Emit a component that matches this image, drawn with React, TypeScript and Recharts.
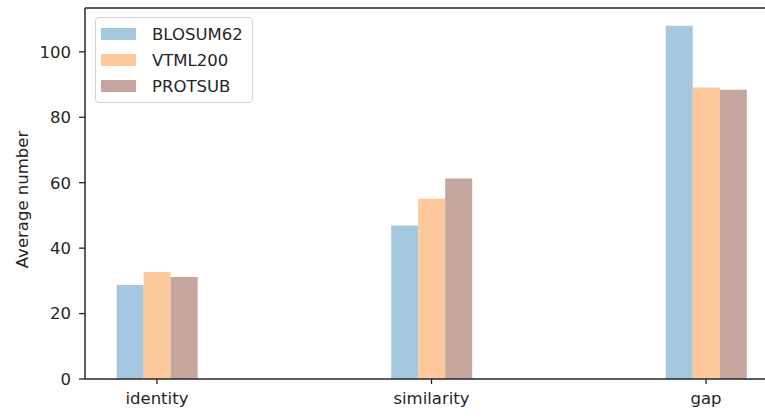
import React from "react"
import { Bar, BarChart, Legend, ReferenceLine, XAxis, YAxis } from "recharts"

const categories = ["identity", "similarity", "gap"]
const blosum62 = [28.7, 46.9, 108.0]
const vtml200 = [32.7, 55.1, 89.1]
const protsub = [31.2, 61.3, 88.4]
const yTicks = [0, 20, 40, 60, 80, 100]
const yMax = 113.4

const series = [
  { key: "BLOSUM62", color: "#a5c8e1" },
  { key: "VTML200", color: "#fdc89b" },
  { key: "PROTSUB", color: "#c4a69e" },
]

const data = categories.map((name, i) => ({
  x: i,
  name,
  BLOSUM62: blosum62[i],
  VTML200: vtml200[i],
  PROTSUB: protsub[i],
}))

const FONT = "'DejaVu Sans', sans-serif"
const INK = "#262626"

function LegendBox() {
  return (
    <div
      style={{
        width: 156,
        height: 84,
        border: "1px solid #d3d3d3",
        borderRadius: 4,
        background: "rgba(255,255,255,0.85)",
        fontFamily: FONT,
        fontSize: 16.5,
        color: INK,
        position: "relative",
      }}
    >
      {series.map((s, i) => (
        <div
          key={s.key}
          style={{ position: "absolute", left: 0, top: 3 + i * 26, height: 26, display: "flex", alignItems: "center" }}
        >
          <span style={{ display: "inline-block", marginLeft: 5, width: 35, height: 12, background: s.color }} />
          <span style={{ marginLeft: 16 }}>{s.key}</span>
        </div>
      ))}
    </div>
  )
}

function YLabel(props: any) {
  const vb = props.viewBox || {}
  const cx = 22
  const cy = vb.y + vb.height / 2 + 6
  return (
    <text
      x={cx}
      y={cy}
      transform={`rotate(-90, ${cx}, ${cy})`}
      textAnchor="middle"
      dominantBaseline="central"
      fontFamily={FONT}
      fontSize={16.5}
      fill={INK}
    >
      Average number
    </text>
  )
}

export default function App() {
  return (
    <div
      style={{
        position: "fixed",
        left: 0,
        top: 0,
        width: 765,
        height: 418,
        overflow: "hidden",
        background: "#fff",
      }}
    >
      <BarChart
        width={800}
        height={418}
        data={data}
        margin={{ top: 8, right: 22, left: 0, bottom: 9 }}
        barGap={0}
        style={{ fontFamily: FONT }}
      >
        <XAxis
          dataKey="x"
          type="number"
          domain={[-0.262, 2.262]}
          ticks={[0, 1, 2]}
          allowDataOverflow
          tickFormatter={(v: number) => categories[v]}
          height={30}
          tickSize={5}
          tickMargin={8}
          tick={{ fill: INK, fontSize: 16.5 }}
          tickLine={{ stroke: INK, strokeWidth: 1.3 }}
          axisLine={{ stroke: INK, strokeWidth: 1.5 }}
        />
        <YAxis
          width={85}
          domain={[0, yMax]}
          ticks={yTicks}
          allowDataOverflow
          tickSize={6}
          tickMargin={8}
          tick={{ fill: INK, fontSize: 16.5 }}
          tickLine={{ stroke: INK, strokeWidth: 1.3 }}
          axisLine={{ stroke: INK, strokeWidth: 1.5 }}
          label={<YLabel />}
        />
        <ReferenceLine y={yMax} stroke={INK} strokeWidth={1.5} />
        <Legend
          content={<LegendBox />}
          layout="horizontal"
          verticalAlign="middle"
          align="center"
          wrapperStyle={{ position: "absolute", left: 95, top: 17, width: "auto", height: "auto" }}
        />
        {series.map((s) => (
          <Bar key={s.key} dataKey={s.key} fill={s.color} barSize={27} isAnimationActive={false} />
        ))}
      </BarChart>
    </div>
  )
}
